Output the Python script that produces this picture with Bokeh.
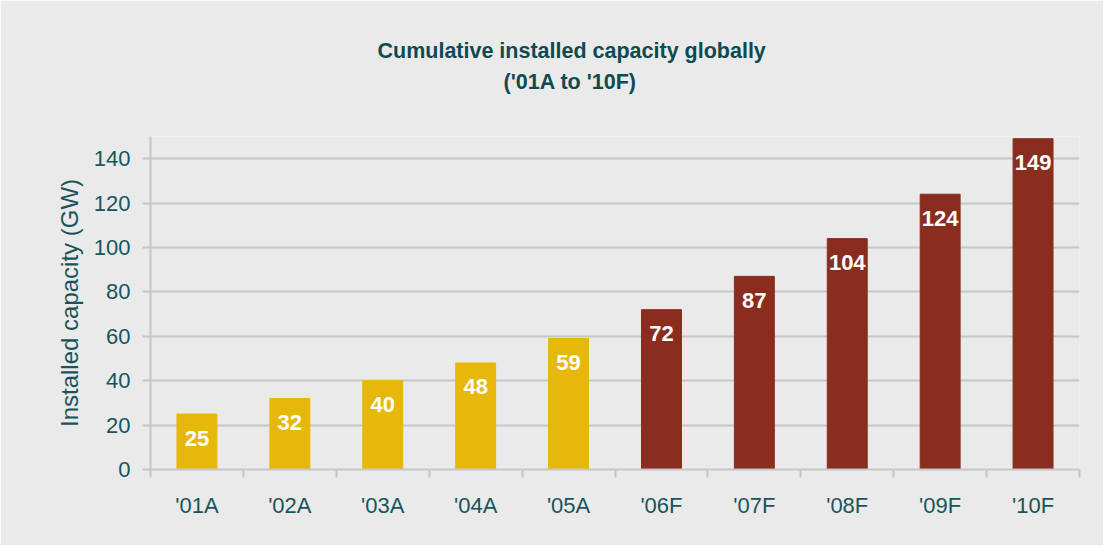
from bokeh.plotting import figure
from bokeh.models import (ColumnDataSource, Range1d, FixedTicker, SingleIntervalTicker, Title)
from bokeh.core.properties import value
from bokeh.embed import file_html
from bokeh.resources import INLINE

categories = ["'01A", "'02A", "'03A", "'04A", "'05A", "'06F", "'07F", "'08F", "'09F", "'10F"]
capacity = [25, 32, 40, 48, 59, 72, 87, 104, 124, 149]
title_lines = ["Cumulative installed capacity globally", "('01A to '10F)"]
y_label = "Installed capacity (GW)"

ACTUAL = "#E6B80B"
FORECAST = "#8A2D1E"
BG = "#EAEAEA"
GRID = "#C6C6C6"
TITLE_C = "#0E4B50"
TEXT_C = "#17555B"
FONT = "Liberation Sans"

xs = [i + 0.5 for i in range(len(categories))]
colors = [ACTUAL if c.endswith("A") else FORECAST for c in categories]
src = ColumnDataSource(dict(x=xs, top=capacity, color=colors,
                            label=[str(v) for v in capacity]))

p = figure(width=1103, height=545, output_backend="svg", toolbar_location=None,
           x_range=Range1d(0, len(categories)), y_range=Range1d(0, 150),
           min_border_left=150, min_border_right=24, min_border_top=136,
           min_border_bottom=76, title=None)
p.background_fill_color = BG
p.border_fill_color = BG
p.outline_line_color = None

t2 = Title(text=title_lines[1], align="left", offset=353, text_font=FONT,
           text_font_size="21.5px", text_font_style="bold", text_color=TITLE_C,
           standoff=85)
t1 = Title(text=title_lines[0], align="left", offset=227, text_font=FONT,
           text_font_size="21.5px", text_font_style="bold", text_color=TITLE_C,
           standoff=-75)
p.add_layout(t2, "above")
p.add_layout(t1, "above")

p.vbar(x="x", top="top", width=0.43, color="color", source=src)
p.text(x="x", y="top", text="label", source=src, text_align="center",
       text_baseline="middle", y_offset=24, text_color="white",
       text_font=value(FONT), text_font_size="22px", text_font_style="bold")

# x axis
p.xaxis.ticker = FixedTicker(ticks=xs, minor_ticks=list(range(len(categories) + 1)))
p.xaxis.major_label_overrides = {x: c for x, c in zip(xs, categories)}
p.xaxis.major_tick_out = 0
p.xaxis.major_tick_in = 0
p.xaxis.minor_tick_out = 8
p.xaxis.minor_tick_in = 0
p.xaxis.minor_tick_line_color = GRID
p.xaxis.minor_tick_line_width = 2
p.xaxis.axis_line_color = GRID
p.xaxis.axis_line_width = 2
p.xaxis.major_label_text_font = FONT
p.xaxis.major_label_text_font_size = "22px"
p.xaxis.major_label_text_color = TEXT_C
p.xaxis.major_label_standoff = 15

# y axis
p.yaxis.ticker = SingleIntervalTicker(interval=20, num_minor_ticks=0)
p.yaxis.axis_line_color = GRID
p.yaxis.axis_line_width = 2
p.yaxis.major_tick_line_color = GRID
p.yaxis.major_tick_line_width = 2
p.yaxis.major_tick_out = 8
p.yaxis.major_tick_in = 0
p.yaxis.minor_tick_line_color = None
p.yaxis.major_label_text_font = FONT
p.yaxis.major_label_text_font_size = "22px"
p.yaxis.major_label_text_color = TEXT_C
p.yaxis.major_label_standoff = 12
p.yaxis.axis_label = y_label
p.yaxis.axis_label_text_font = FONT
p.yaxis.axis_label_text_font_size = "24px"
p.yaxis.axis_label_text_font_style = "normal"
p.yaxis.axis_label_text_color = TEXT_C
p.yaxis.axis_label_standoff = 8

p.xgrid.grid_line_color = None
p.ygrid.grid_line_color = GRID
p.ygrid.grid_line_width = 2

open("out.html", "w").write(file_html(p, INLINE))
